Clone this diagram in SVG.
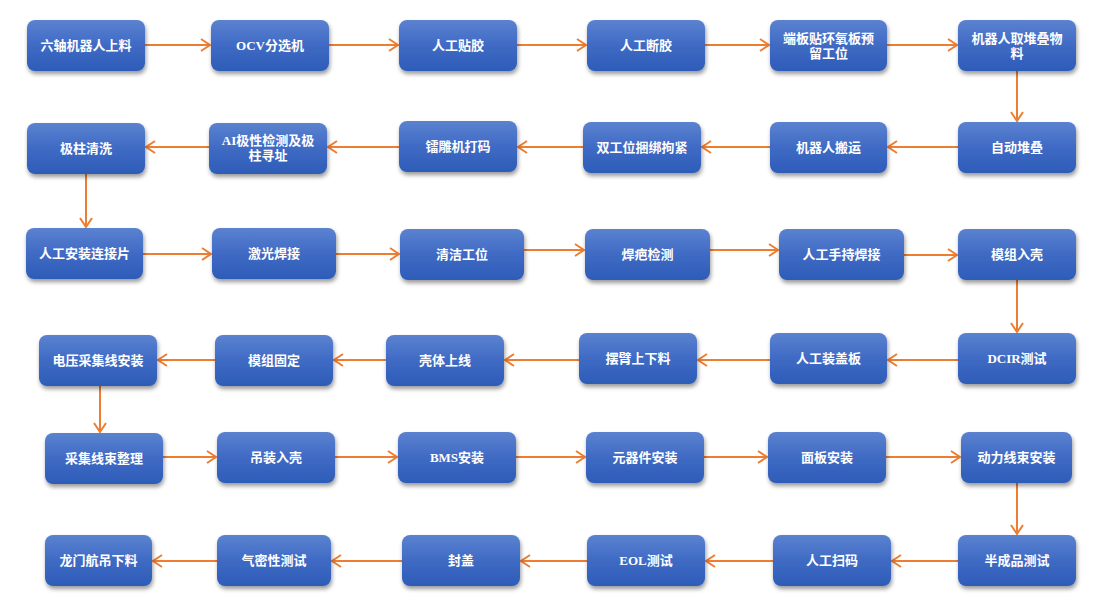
<svg xmlns="http://www.w3.org/2000/svg" width="1110" height="598" viewBox="0 0 1110 598">
<defs>
<linearGradient id="g" x1="0" y1="0" x2="0" y2="1">
<stop offset="0" stop-color="#5b82d0"/>
<stop offset="0.5" stop-color="#3f6ac4"/>
<stop offset="1" stop-color="#2d5cb8"/>
</linearGradient>
<filter id="sh" x="-10%" y="-10%" width="125%" height="140%">
<feDropShadow dx="1" dy="3" stdDeviation="2" flood-color="#000" flood-opacity="0.4"/>
</filter>
<marker id="ah" markerUnits="userSpaceOnUse" markerWidth="14" markerHeight="14" viewBox="0 0 14 14" refX="12" refY="7" orient="auto">
<path d="M3,1 L12,7 L3,13" fill="none" stroke="#ed7d31" stroke-width="2"/>
</marker>
<style>
.b{fill:url(#g);filter:url(#sh)}
.t{fill:#fff;font-family:"Liberation Serif","Noto Sans CJK SC",serif;font-weight:bold;font-size:13px;text-anchor:middle}
.c line{stroke:#ed7d31;stroke-width:2;marker-end:url(#ah)}
</style>
</defs>
<g class="c" id="connectors">
<line x1="145" y1="45" x2="210" y2="45"/>
<line x1="329" y1="45" x2="398" y2="45"/>
<line x1="517" y1="45" x2="586" y2="45"/>
<line x1="705" y1="45" x2="769" y2="45"/>
<line x1="887" y1="45" x2="957" y2="45"/>
<line x1="1017" y1="71" x2="1017" y2="121"/>
<line x1="958" y1="147" x2="888" y2="147"/>
<line x1="770" y1="147" x2="702" y2="147"/>
<line x1="583" y1="147" x2="518" y2="147"/>
<line x1="399" y1="147" x2="328" y2="147"/>
<line x1="209" y1="147" x2="146" y2="147"/>
<line x1="86" y1="174" x2="86" y2="227"/>
<line x1="143" y1="254" x2="211" y2="254"/>
<line x1="336" y1="254" x2="399" y2="254"/>
<line x1="524" y1="250" x2="584" y2="250"/>
<line x1="710" y1="250" x2="778" y2="250"/>
<line x1="904" y1="255" x2="957" y2="255"/>
<line x1="1017" y1="280" x2="1017" y2="332"/>
<line x1="958" y1="360" x2="888" y2="360"/>
<line x1="770" y1="360" x2="698" y2="360"/>
<line x1="579" y1="360" x2="505" y2="360"/>
<line x1="386" y1="360" x2="334" y2="360"/>
<line x1="215" y1="360" x2="158" y2="360"/>
<line x1="100" y1="386" x2="100" y2="432"/>
<line x1="163" y1="457" x2="216" y2="457"/>
<line x1="335" y1="457" x2="397" y2="457"/>
<line x1="516" y1="457" x2="585" y2="457"/>
<line x1="704" y1="457" x2="767" y2="457"/>
<line x1="886" y1="457" x2="960" y2="457"/>
<line x1="1017" y1="483" x2="1017" y2="534"/>
<line x1="958" y1="561" x2="892" y2="561"/>
<line x1="773" y1="561" x2="706" y2="561"/>
<line x1="587" y1="561" x2="521" y2="561"/>
<line x1="402" y1="561" x2="332" y2="561"/>
<line x1="217" y1="561" x2="153" y2="561"/>
</g>
<g id="n1"><rect class="b" x="27" y="20" width="118" height="51" rx="8"/><text class="t" x="86" y="50">六轴机器人上料</text></g>
<g id="n2"><rect class="b" x="211" y="20" width="118" height="51" rx="8"/><text class="t" x="270" y="50">OCV分选机</text></g>
<g id="n3"><rect class="b" x="399" y="20" width="118" height="51" rx="8"/><text class="t" x="458" y="50">人工贴胶</text></g>
<g id="n4"><rect class="b" x="587" y="20" width="118" height="51" rx="8"/><text class="t" x="646" y="50">人工断胶</text></g>
<g id="n5"><rect class="b" x="770" y="20" width="117" height="51" rx="8"/><text class="t" x="828.5" y="43">端板贴环氧板预</text><text class="t" x="828.5" y="58">留工位</text></g>
<g id="n6"><rect class="b" x="958" y="20" width="118" height="51" rx="8"/><text class="t" x="1017" y="43">机器人取堆叠物</text><text class="t" x="1017" y="58">料</text></g>
<g id="n7"><rect class="b" x="958" y="122" width="118" height="51" rx="8"/><text class="t" x="1017" y="152">自动堆叠</text></g>
<g id="n8"><rect class="b" x="770" y="122" width="117" height="51" rx="8"/><text class="t" x="828.5" y="152">机器人搬运</text></g>
<g id="n9"><rect class="b" x="583" y="122" width="118" height="51" rx="8"/><text class="t" x="642" y="152">双工位捆绑拘紧</text></g>
<g id="n10"><rect class="b" x="399" y="121" width="118" height="51" rx="8"/><text class="t" x="458" y="151">镭雕机打码</text></g>
<g id="n11"><rect class="b" x="209" y="123" width="118" height="51" rx="8"/><text class="t" x="268" y="145">AI极性检测及极</text><text class="t" x="268" y="160">柱寻址</text></g>
<g id="n12"><rect class="b" x="27" y="123" width="118" height="51" rx="8"/><text class="t" x="86" y="153">极柱清洗</text></g>
<g id="n13"><rect class="b" x="26" y="228" width="117" height="51" rx="8"/><text class="t" x="84.5" y="258">人工安装连接片</text></g>
<g id="n14"><rect class="b" x="212" y="228" width="124" height="51" rx="8"/><text class="t" x="274" y="258">激光焊接</text></g>
<g id="n15"><rect class="b" x="400" y="229" width="124" height="51" rx="8"/><text class="t" x="462" y="259">清洁工位</text></g>
<g id="n16"><rect class="b" x="585" y="229" width="125" height="51" rx="8"/><text class="t" x="647.5" y="259">焊疤检测</text></g>
<g id="n17"><rect class="b" x="779" y="229" width="125" height="51" rx="8"/><text class="t" x="841.5" y="259">人工手持焊接</text></g>
<g id="n18"><rect class="b" x="958" y="229" width="118" height="51" rx="8"/><text class="t" x="1017" y="259">模组入壳</text></g>
<g id="n19"><rect class="b" x="958" y="333" width="118" height="51" rx="8"/><text class="t" x="1017" y="363">DCIR测试</text></g>
<g id="n20"><rect class="b" x="770" y="333" width="117" height="51" rx="8"/><text class="t" x="828.5" y="363">人工装盖板</text></g>
<g id="n21"><rect class="b" x="579" y="333" width="118" height="51" rx="8"/><text class="t" x="638" y="363">摆臂上下料</text></g>
<g id="n22"><rect class="b" x="386" y="335" width="118" height="51" rx="8"/><text class="t" x="445" y="365">壳体上线</text></g>
<g id="n23"><rect class="b" x="215" y="335" width="118" height="51" rx="8"/><text class="t" x="274" y="365">模组固定</text></g>
<g id="n24"><rect class="b" x="39" y="335" width="118" height="51" rx="8"/><text class="t" x="98" y="365">电压采集线安装</text></g>
<g id="n25"><rect class="b" x="45" y="433" width="118" height="51" rx="8"/><text class="t" x="104" y="463">采集线束整理</text></g>
<g id="n26"><rect class="b" x="217" y="432" width="118" height="51" rx="8"/><text class="t" x="276" y="462">吊装入壳</text></g>
<g id="n27"><rect class="b" x="398" y="432" width="118" height="51" rx="8"/><text class="t" x="457" y="462">BMS安装</text></g>
<g id="n28"><rect class="b" x="586" y="432" width="118" height="51" rx="8"/><text class="t" x="645" y="462">元器件安装</text></g>
<g id="n29"><rect class="b" x="768" y="432" width="118" height="51" rx="8"/><text class="t" x="827" y="462">面板安装</text></g>
<g id="n30"><rect class="b" x="961" y="432" width="111" height="51" rx="8"/><text class="t" x="1016.5" y="462">动力线束安装</text></g>
<g id="n31"><rect class="b" x="958" y="535" width="118" height="51" rx="8"/><text class="t" x="1017" y="565">半成品测试</text></g>
<g id="n32"><rect class="b" x="773" y="535" width="118" height="51" rx="8"/><text class="t" x="832" y="565">人工扫码</text></g>
<g id="n33"><rect class="b" x="587" y="535" width="118" height="51" rx="8"/><text class="t" x="646" y="565">EOL测试</text></g>
<g id="n34"><rect class="b" x="402" y="535" width="118" height="51" rx="8"/><text class="t" x="461" y="565">封盖</text></g>
<g id="n35"><rect class="b" x="217" y="535" width="114" height="51" rx="8"/><text class="t" x="274" y="565">气密性测试</text></g>
<g id="n36"><rect class="b" x="45" y="535" width="107" height="51" rx="8"/><text class="t" x="98.5" y="565">龙门航吊下料</text></g>
</svg>
